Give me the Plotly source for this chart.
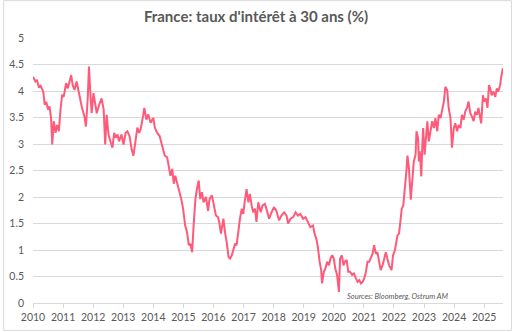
import plotly.graph_objects as go

# Decimal years (offset from 2010) and 30y yield (%)
year_offset = [
    0.00, 0.08, 0.13, 0.19, 0.25, 0.30, 0.34, 0.39, 0.44, 0.50, 0.55, 0.60, 0.64, 0.69, 0.75, 0.80, 0.86, 0.92, 0.97,
    1.02, 1.10, 1.16, 1.21, 1.27, 1.32, 1.38, 1.45, 1.51, 1.58, 1.63, 1.71, 1.76, 1.82, 1.86, 1.91, 1.95,
    2.01, 2.07, 2.12, 2.20, 2.28, 2.35, 2.40, 2.45, 2.51, 2.59, 2.64, 2.70, 2.75, 2.81, 2.86, 2.94,
    3.01, 3.08, 3.14, 3.21, 3.28, 3.34, 3.39, 3.47, 3.53, 3.58, 3.66, 3.70, 3.77, 3.83, 3.91,
    4.00, 4.05, 4.13, 4.21, 4.30, 4.38, 4.46, 4.52, 4.57, 4.63, 4.68, 4.73, 4.79, 4.87, 4.93, 4.99,
    5.06, 5.12, 5.18, 5.23, 5.29, 5.34, 5.40, 5.45, 5.51, 5.56, 5.62, 5.67, 5.75, 5.82, 5.87, 5.95,
    6.00, 6.08, 6.15, 6.19, 6.25, 6.28, 6.33, 6.39, 6.44, 6.50, 6.55, 6.61, 6.66, 6.72, 6.77, 6.83, 6.88, 6.94, 6.99,
    7.05, 7.10, 7.16, 7.21, 7.27, 7.32, 7.38, 7.43, 7.49, 7.57, 7.63, 7.71, 7.76, 7.85, 7.93,
    8.01, 8.09, 8.18, 8.26, 8.35, 8.43, 8.48, 8.56, 8.65, 8.73, 8.81, 8.89, 8.98,
    9.06, 9.14, 9.22, 9.31, 9.36, 9.42, 9.47, 9.53, 9.58, 9.61, 9.67, 9.72, 9.78, 9.84, 9.89, 9.95,
    10.00, 10.05, 10.11, 10.17, 10.21, 10.27, 10.32, 10.37, 10.43, 10.48, 10.54, 10.61, 10.67, 10.74, 10.79, 10.85, 10.90, 10.96,
    11.01, 11.07, 11.12, 11.18, 11.23, 11.29, 11.34, 11.40, 11.45, 11.51, 11.56, 11.62, 11.67, 11.73, 11.78, 11.84, 11.92, 11.97,
    12.03, 12.08, 12.12, 12.17, 12.22, 12.26, 12.31, 12.37, 12.41, 12.45, 12.50, 12.56, 12.61, 12.66, 12.72, 12.75, 12.80,
    12.83, 12.86, 12.91, 12.94, 12.97,
    13.02, 13.06, 13.11, 13.16, 13.22, 13.27, 13.33, 13.38, 13.44, 13.49, 13.55, 13.60, 13.66, 13.71, 13.77, 13.82, 13.88, 13.93, 13.99,
    14.04, 14.10, 14.15, 14.21, 14.26, 14.32, 14.37, 14.43, 14.48, 14.54, 14.59, 14.65, 14.70, 14.76, 14.81, 14.87, 14.90, 14.96,
    15.00, 15.06, 15.11, 15.16, 15.20, 15.25, 15.31, 15.37, 15.42, 15.47, 15.53, 15.56, 15.62,
]
yield_30y = [
    4.27, 4.18, 4.21, 4.08, 4.10, 4.02, 3.99, 3.74, 3.80, 3.65, 3.71, 3.49, 2.99, 3.43, 3.21, 3.36, 3.24, 3.68, 3.93,
    3.89, 4.15, 4.05, 4.18, 4.30, 4.11, 4.02, 4.18, 3.99, 3.80, 3.68, 3.52, 3.33, 3.86, 4.46, 3.93, 3.58,
    3.96, 3.74, 3.58, 3.74, 3.86, 3.65, 2.99, 3.55, 3.18, 3.02, 2.93, 3.21, 3.12, 3.18, 3.05, 3.18,
    2.99, 3.21, 3.24, 3.15, 2.90, 2.78, 2.96, 3.31, 3.21, 3.28, 3.53, 3.68, 3.46, 3.56, 3.40,
    3.49, 3.31, 3.21, 3.15, 2.96, 2.78, 2.75, 2.59, 2.40, 2.53, 2.25, 2.40, 2.28, 2.12, 1.96, 1.78,
    1.46, 1.34, 1.09, 1.12, 0.96, 1.46, 1.96, 2.15, 2.31, 1.96, 2.09, 1.90, 2.00, 1.74, 1.96, 2.03,
    1.90, 1.65, 1.62, 1.53, 1.31, 1.43, 1.59, 1.31, 1.15, 0.87, 0.84, 0.90, 1.03, 1.12, 1.09, 1.43, 1.59, 1.78, 1.68,
    1.96, 2.15, 1.90, 2.06, 1.84, 1.71, 1.78, 1.53, 1.90, 1.71, 1.84, 1.87, 1.78, 1.59, 1.71,
    1.81, 1.74, 1.56, 1.65, 1.71, 1.65, 1.50, 1.59, 1.62, 1.71, 1.65, 1.68, 1.59,
    1.62, 1.53, 1.43, 1.46, 1.31, 1.21, 1.06, 0.78, 0.62, 0.37, 0.59, 0.65, 0.78, 0.71, 0.84, 0.90,
    0.84, 0.65, 0.53, 0.21, 0.84, 0.90, 0.71, 0.78, 0.81, 0.59, 0.59, 0.53, 0.56, 0.46, 0.40, 0.43, 0.37, 0.40,
    0.46, 0.59, 0.78, 0.78, 0.84, 0.93, 1.09, 0.93, 0.96, 0.78, 0.62, 0.71, 0.84, 0.96, 0.84, 0.71, 0.62, 0.90,
    0.99, 1.15, 1.28, 1.31, 1.53, 1.78, 1.84, 2.15, 2.46, 2.78, 2.53, 1.95, 2.36, 2.67, 2.80, 3.24, 3.12,
    2.67, 2.86, 2.39, 2.92, 3.30,
    2.80, 3.05, 3.43, 3.05, 3.24, 3.43, 3.30, 3.49, 3.24, 3.55, 3.49, 3.61, 3.80, 4.08, 4.02, 3.68, 3.49, 2.93, 3.30,
    3.39, 3.24, 3.36, 3.30, 3.55, 3.46, 3.61, 3.68, 3.80, 3.58, 3.52, 3.43, 3.61, 3.55, 3.68, 3.52, 3.39, 3.92,
    3.80, 3.86, 3.68, 4.11, 4.05, 3.92, 3.99, 3.89, 4.05, 3.99, 4.11, 4.24, 4.43,
]
base_year = 2010
years = list(range(2010, 2026))
year_labels = [str(y) for y in years]
y_ticks = [0, 0.5, 1, 1.5, 2, 2.5, 3, 3.5, 4, 4.5, 5]
y_tick_labels = ["0", "0.5", "1", "1.5", "2", "2.5", "3", "3.5", "4", "4.5", "5"]

x_vals = [base_year + o for o in year_offset]

FONT = "Lato"
GREY = "#595959"

fig = go.Figure()
fig.add_trace(go.Scatter(
    x=x_vals, y=yield_30y, mode="lines",
    line=dict(color="#FF5A7A", width=2),
    showlegend=False, hoverinfo="skip",
))

L, R, T, B = 30, 9, 38, 28
pw = 512 - L - R
ph = 332 - T - B

fig.update_layout(
    width=512, height=332,
    margin=dict(l=L, r=R, t=T, b=B),
    paper_bgcolor="white", plot_bgcolor="white",
    title=dict(text="France: taux d'intérêt à 30 ans (%)", x=0.5, xanchor="center",
               y=1 - 17 / 332, yanchor="middle",
               font=dict(family=FONT, size=15, color=GREY, weight="bold")),
    xaxis=dict(range=[2010, 2010 + pw / 30.27], tickvals=years, ticktext=year_labels,
               showgrid=False, zeroline=False, showline=True, linecolor="#d9d9d9", linewidth=1,
               ticks="outside", ticklen=4, tickcolor="#d9d9d9",
               tickfont=dict(family=FONT, size=10.5, color=GREY)),
    yaxis=dict(range=[0, 5], tickvals=y_ticks, ticktext=y_tick_labels,
               showgrid=True, gridcolor="#d9d9d9", gridwidth=1, zeroline=False, showline=False,
               ticks="", ticklabelstandoff=8,
               tickfont=dict(family=FONT, size=10.5, color=GREY)),
    annotations=[dict(text="<i>Sources: Bloomberg, Ostrum AM</i>", xref="paper", yref="paper",
                      x=(397 - L) / pw, y=(332 - B - 297) / ph, showarrow=False,
                      xanchor="center", yanchor="middle",
                      font=dict(family=FONT, size=7.5, color=GREY))],
    shapes=[dict(type="rect", xref="paper", yref="paper",
                 x0=-(L - 0.5) / pw, x1=1 + (R - 0.5) / pw,
                 y0=-(B - 0.5) / ph, y1=1 + (T - 0.5) / ph,
                 line=dict(color="#d9d9d9", width=1), fillcolor="rgba(0,0,0,0)")],
)

fig.write_html("out.html")
